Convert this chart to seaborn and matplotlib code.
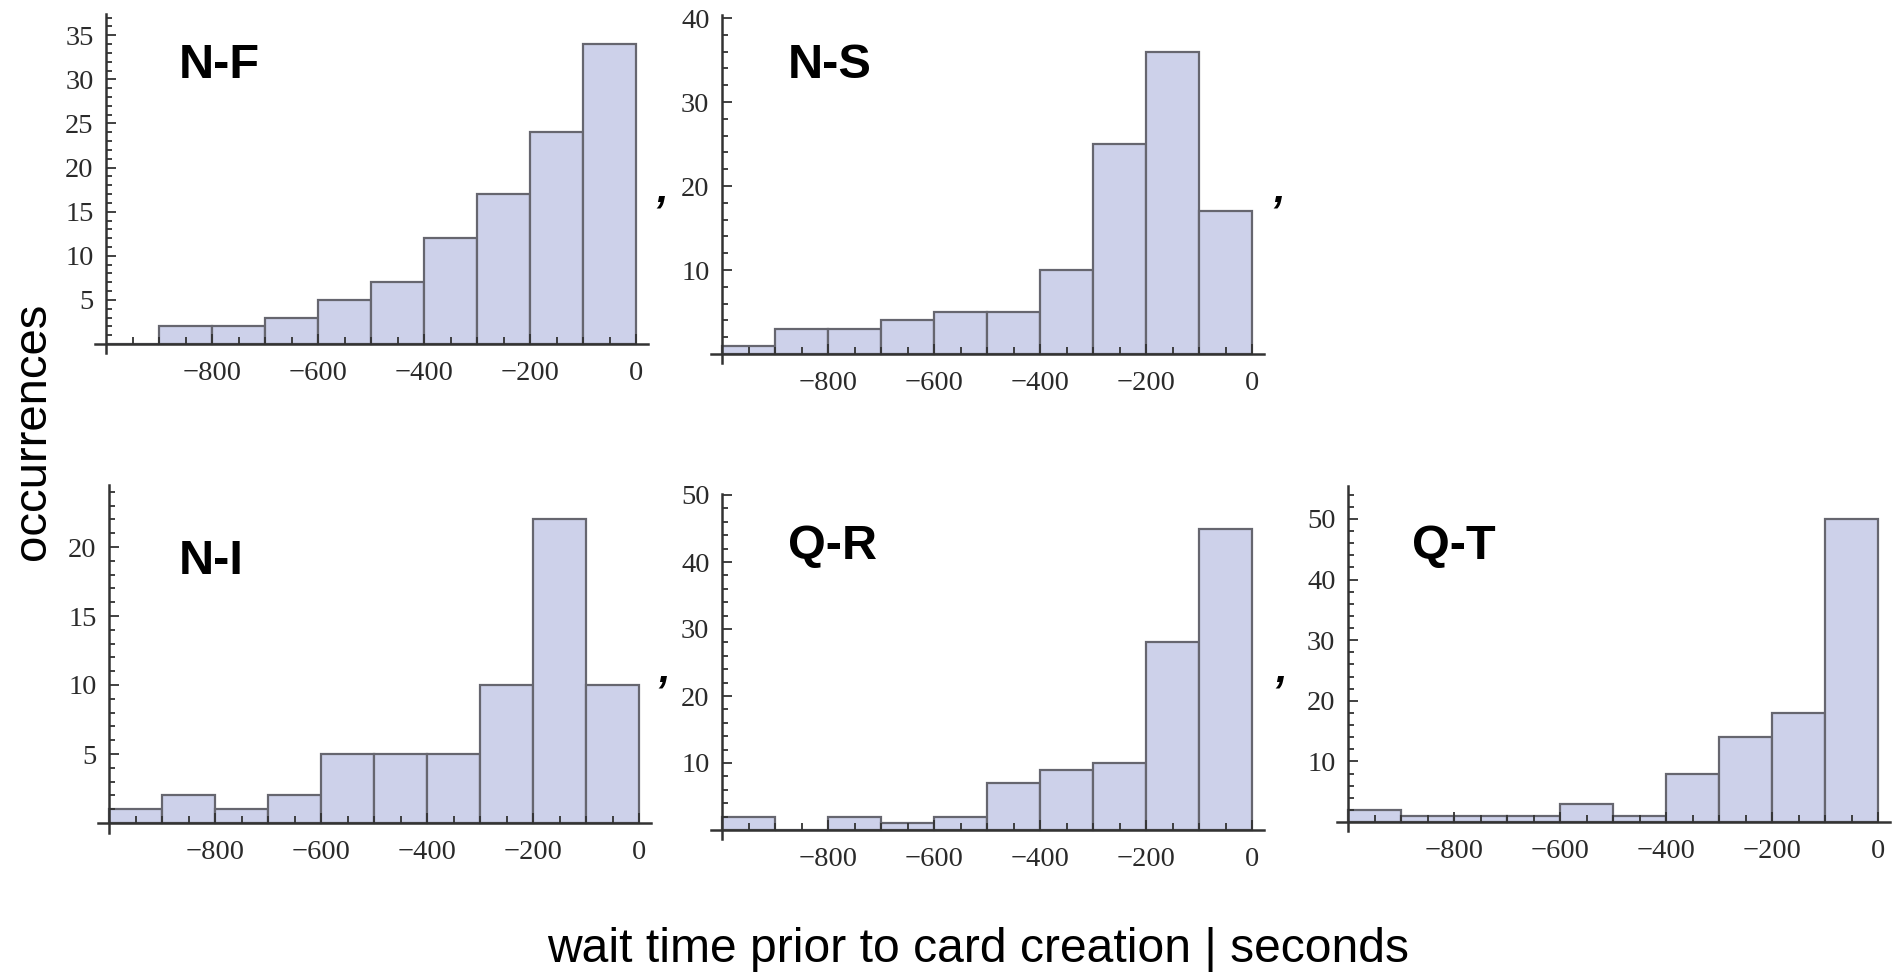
import numpy as np
import pandas as pd
import matplotlib
matplotlib.use("Agg")
import matplotlib.pyplot as plt
from matplotlib.ticker import FixedLocator
import seaborn as sns

# Bin edges for wait time (seconds before card creation)
bin_edges = list(range(-1000, 1, 100))
bin_centers = [(a + b) / 2 for a, b in zip(bin_edges[:-1], bin_edges[1:])]

# Occurrence counts per 100-second bin, oldest bin first
counts_nf = [0, 2, 2, 3, 5, 7, 12, 17, 24, 34]
counts_ns = [1, 3, 3, 4, 5, 5, 10, 25, 36, 17]
counts_ni = [1, 2, 1, 2, 5, 5, 5, 10, 22, 10]
counts_qr = [2, 0, 2, 1, 2, 7, 9, 10, 28, 45]
counts_qt = [2, 1, 1, 1, 3, 1, 8, 14, 18, 50]

panel_names = ["N-F", "N-S", "N-I", "Q-R", "Q-T"]
x_tick_values = [-800, -600, -400, -200, 0]
x_tick_labels = ["\u2212800", "\u2212600", "\u2212400", "\u2212200", "0"]
y_major_nf = [5, 10, 15, 20, 25, 30, 35]
y_major_ns = [10, 20, 30, 40]
y_major_ni = [5, 10, 15, 20]
y_major_qr = [10, 20, 30, 40, 50]
y_major_qt = [10, 20, 30, 40, 50]

sns.set_theme(style="white")
plt.rcParams["font.family"] = ["Liberation Sans", "DejaVu Sans"]

W, H = 1895, 975
fig = plt.figure(figsize=(W / 100, H / 100), dpi=100)

FILL = "#cdd1ea"
EDGE = "#66666f"
AXIS = "#333333"
XLIM = (-1020, 22)
XSCALE = 0.53  # pixels per second

# layout: (pixel x of -1000, pixel y of 0, pixels per count, ylim, minor step)
layout = [
    (106, 344, 8.82, (-1.0, 37.4), 1),
    (722, 354, 8.40, (-1.1, 40.3), 2),
    (109, 823, 13.8, (-0.7, 24.5), 1),
    (722, 830, 6.70, (-1.4, 50.2), 2),
    (1348, 822, 6.06, (-1.5, 55.5), 2),
]
all_counts = [counts_nf, counts_ns, counts_ni, counts_qr, counts_qt]
all_major = [y_major_nf, y_major_ns, y_major_ni, y_major_qr, y_major_qt]
title_pos = [(179, 66), (788, 66), (179, 562), (788, 547), (1412, 547)]
comma_pos = [(662, 191), (1279, 191), (664, 670), (1281, 670)]

for i, (name, counts, majors, lay) in enumerate(zip(panel_names, all_counts, all_major, layout)):
    xo, yo, ys, ylim, mstep = lay
    left = xo + (XLIM[0] + 1000) * XSCALE
    right = xo + (XLIM[1] + 1000) * XSCALE
    bottom = yo - ylim[0] * ys
    top = yo - ylim[1] * ys
    ax = fig.add_axes([left / W, 1 - bottom / H, (right - left) / W, (bottom - top) / H])
    ax.patch.set_alpha(0)

    df = pd.DataFrame({"wait": bin_centers, "n": counts})
    sns.histplot(data=df, x="wait", weights="n", bins=bin_edges, ax=ax,
                 color=FILL, edgecolor=EDGE, linewidth=1.6, alpha=1.0)

    ax.set_axisbelow(False)
    ax.set_xlim(*XLIM)
    ax.set_ylim(*ylim)
    ax.set_xlabel("")
    ax.set_ylabel("")
    for s in ["top", "right"]:
        ax.spines[s].set_visible(False)
    ax.spines["left"].set_position(("data", -1000))
    ax.spines["bottom"].set_position(("data", 0))
    for s in ["left", "bottom"]:
        ax.spines[s].set_color(AXIS)
        ax.spines[s].set_linewidth(1.8)
        ax.spines[s].set_zorder(5)

    ax.xaxis.set_major_locator(FixedLocator(x_tick_values))
    ax.xaxis.set_minor_locator(FixedLocator([v for v in range(-950, 1, 50) if v % 200 != 0]))
    ax.yaxis.set_major_locator(FixedLocator(majors))
    ax.yaxis.set_minor_locator(FixedLocator([v for v in np.arange(mstep, ylim[1], mstep)
                                             if v not in majors]))
    ax.set_xticklabels(x_tick_labels)
    ax.tick_params(axis="both", which="both", direction="in", color=AXIS, width=1.3,
                   labelcolor="#2a2a2a", labelsize=20.5, bottom=True, left=True,
                   top=False, right=False)
    ax.tick_params(axis="x", which="major", length=7, pad=12)
    ax.tick_params(axis="x", which="minor", length=5)
    ax.tick_params(axis="y", which="major", length=7, pad=9)
    ax.tick_params(axis="y", which="minor", length=4)
    for lbl in ax.get_xticklabels() + ax.get_yticklabels():
        lbl.set_family(["Liberation Serif", "DejaVu Serif"])

    tx, ty = title_pos[i]
    fig.text(tx / W, 1 - ty / H, name, fontsize=35, fontweight="bold",
             ha="left", va="center", color="black")

for cx, cy in comma_pos:
    fig.text(cx / W, 1 - cy / H, ",", fontsize=30, fontweight="bold", fontstyle="italic",
             ha="center", va="center", color="black")

fig.text(33 / W, 1 - 431 / H, "occurrences", fontsize=34, rotation=90,
         ha="center", va="center", color="black")
fig.text(978 / W, 1 - 950 / H, "wait time prior to card creation | seconds",
         fontsize=34.6, ha="center", va="center", color="black")

fig.savefig("out.png", dpi=100)
